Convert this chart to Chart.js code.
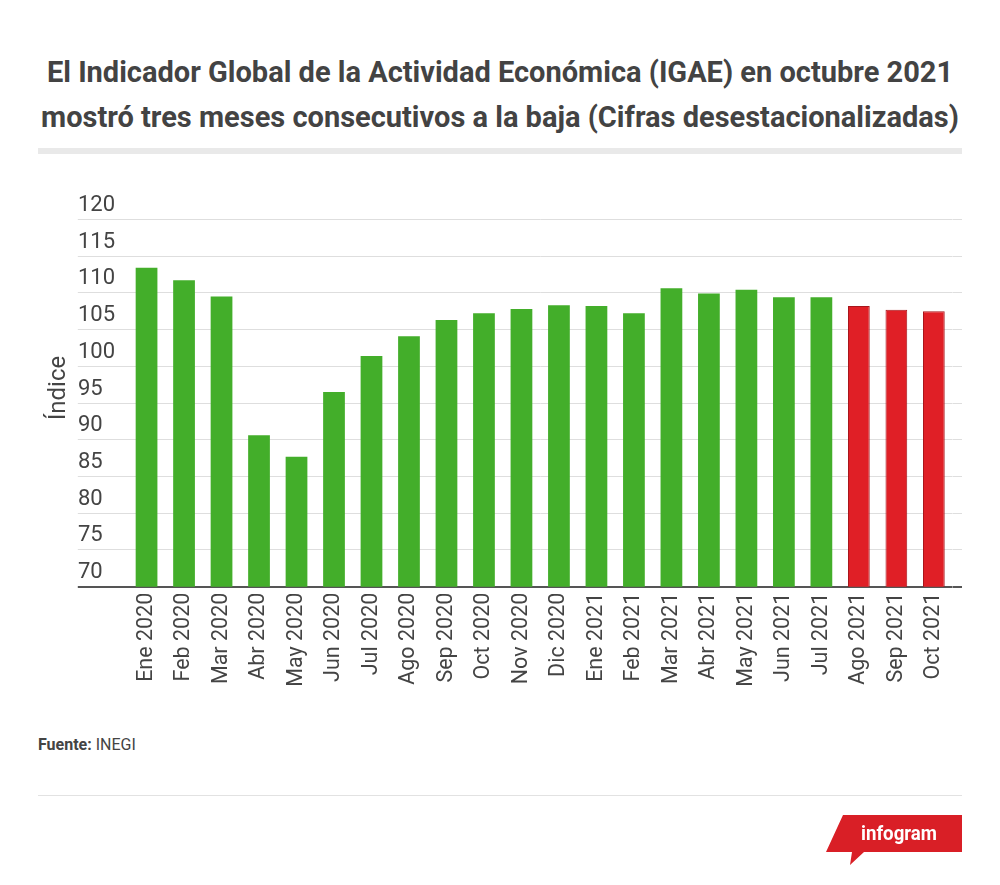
<!DOCTYPE html>
<html>
<head>
<meta charset="utf-8">
<script src="https://cdn.jsdelivr.net/npm/chart.js@4.4.0/dist/chart.umd.min.js"></script>
<style>
  html, body { margin: 0; padding: 0; background: #fff; }
  body { width: 1000px; height: 885px; position: relative; overflow: hidden; font-family: Roboto, "Noto Sans", sans-serif; color: #444; }
  .title { position: absolute; left: 0; width: 1000px; text-align: center; font-weight: 700; font-size: 29px; line-height: 34px; color: #434343; white-space: nowrap; }
  #t1 { top: 55px; }
  #t2 { top: 100px; }
  .bar { position: absolute; left: 38px; width: 924px; top: 148px; height: 6px; background: #e9e9e9; }
  #chartWrap { position: absolute; left: 0; top: 180px; width: 1000px; height: 520px; }
  #ytitle { position: absolute; left: 57px; top: 388px; transform: translate(-50%, -50%) rotate(-90deg); font-size: 24px; color: #444; white-space: nowrap; }
  #source { position: absolute; left: 38px; top: 735px; font-size: 16px; color: #444; }
  .sep { position: absolute; left: 38px; width: 924px; top: 795px; height: 1px; background: #e2e2e2; }
  #logo { position: absolute; left: 0; top: 0; }
</style>
</head>
<body>
<div class="title" id="t1">El Indicador Global de la Actividad Económica (IGAE) en octubre 2021</div>
<div class="title" id="t2">mostró tres meses consecutivos a la baja (Cifras desestacionalizadas)</div>
<div class="bar"></div>
<div id="chartWrap"><canvas id="c"></canvas></div>
<div id="ytitle">Índice</div>
<div id="source"><b>Fuente:</b> INEGI</div>
<div class="sep"></div>
<svg id="logo" width="1000" height="885" style="pointer-events:none">
  <polygon points="843,815 962,815 962,852 864,852 850,865 852,852 826,852" fill="#d91f26"/>
  <text x="899" y="840" fill="#fff" font-family="Roboto, sans-serif" font-weight="700" font-size="21" text-anchor="middle" textLength="76" lengthAdjust="spacingAndGlyphs">infogram</text>
</svg>
<script>
const categories = ['Ene 2020','Feb 2020','Mar 2020','Abr 2020','May 2020','Jun 2020','Jul 2020','Ago 2020','Sep 2020','Oct 2020','Nov 2020','Dic 2020','Ene 2021','Feb 2021','Mar 2021','Abr 2021','May 2021','Jun 2021','Jul 2021','Ago 2021','Sep 2021','Oct 2021'];
const igaeValues = [113.4, 111.7, 109.5, 90.6, 87.7, 96.5, 101.4, 104.1, 106.3, 107.2, 107.8, 108.3, 108.2, 107.2, 110.6, 109.9, 110.4, 109.4, 109.4, 108.2, 107.7, 107.5];
const decliningMonths = ['Ago 2021','Sep 2021','Oct 2021'];
const yTicks = [70, 75, 80, 85, 90, 95, 100, 105, 110, 115, 120];

const GREEN = '#43ae2a', RED = '#e01f26', RED_BORDER = '#a8161c';
const isDecl = (i) => decliningMonths.includes(categories[i]);
const gridColor = (ctx) => (ctx.tick && ctx.tick.value === yTicks[0]) ? '#555555' : '#dedede';
const gridWidth = (ctx) => (ctx.tick && ctx.tick.value === yTicks[0]) ? 2 : 1;

new Chart(document.getElementById('c'), {
  type: 'bar',
  data: {
    labels: categories,
    datasets: [{
      data: igaeValues,
      backgroundColor: (ctx) => isDecl(ctx.dataIndex) ? RED : GREEN,
      borderColor: (ctx) => isDecl(ctx.dataIndex) ? RED_BORDER : GREEN,
      borderWidth: (ctx) => isDecl(ctx.dataIndex) ? 1 : 0,
      borderSkipped: 'bottom',
      categoryPercentage: 1.0,
      barPercentage: 0.58
    }]
  },
  options: {
    responsive: true,
    maintainAspectRatio: false,
    animation: false,
    devicePixelRatio: 1,
    layout: { padding: { left: 78, right: 38, top: 39.3, bottom: 0 } },
    plugins: { legend: { display: false }, tooltip: { enabled: false } },
    scales: {
      x: {
        grid: { display: false, drawTicks: false },
        border: { display: false },
        ticks: {
          minRotation: 90, maxRotation: 90, autoSkip: false, padding: 6,
          color: '#444', font: { family: 'Roboto', size: 21.5 }
        },
        afterFit: (s) => { s.height = 113.3; }
      },
      y: {
        position: 'left',
        min: 70, max: 120,
        afterBuildTicks: (s) => { s.ticks = yTicks.map(v => ({ value: v })); },
        grid: { color: gridColor, lineWidth: gridWidth, drawTicks: true, tickLength: 50 },
        border: { display: false },
        ticks: {
          crossAlign: 'far', labelOffset: -14, padding: 0,
          color: '#444', font: { family: 'Roboto', size: 22 }
        },
        afterFit: (s) => { s.width = 49.8; }
      },
      yRight: {
        position: 'right',
        min: 70, max: 120,
        afterBuildTicks: (s) => { s.ticks = yTicks.map(v => ({ value: v })); },
        grid: { color: gridColor, lineWidth: gridWidth, drawOnChartArea: false, drawTicks: true, tickLength: 9.4 },
        border: { display: false },
        ticks: { display: false },
        afterFit: (s) => { s.width = 9.4; }
      }
    }
  }
});
</script>
</body>
</html>
